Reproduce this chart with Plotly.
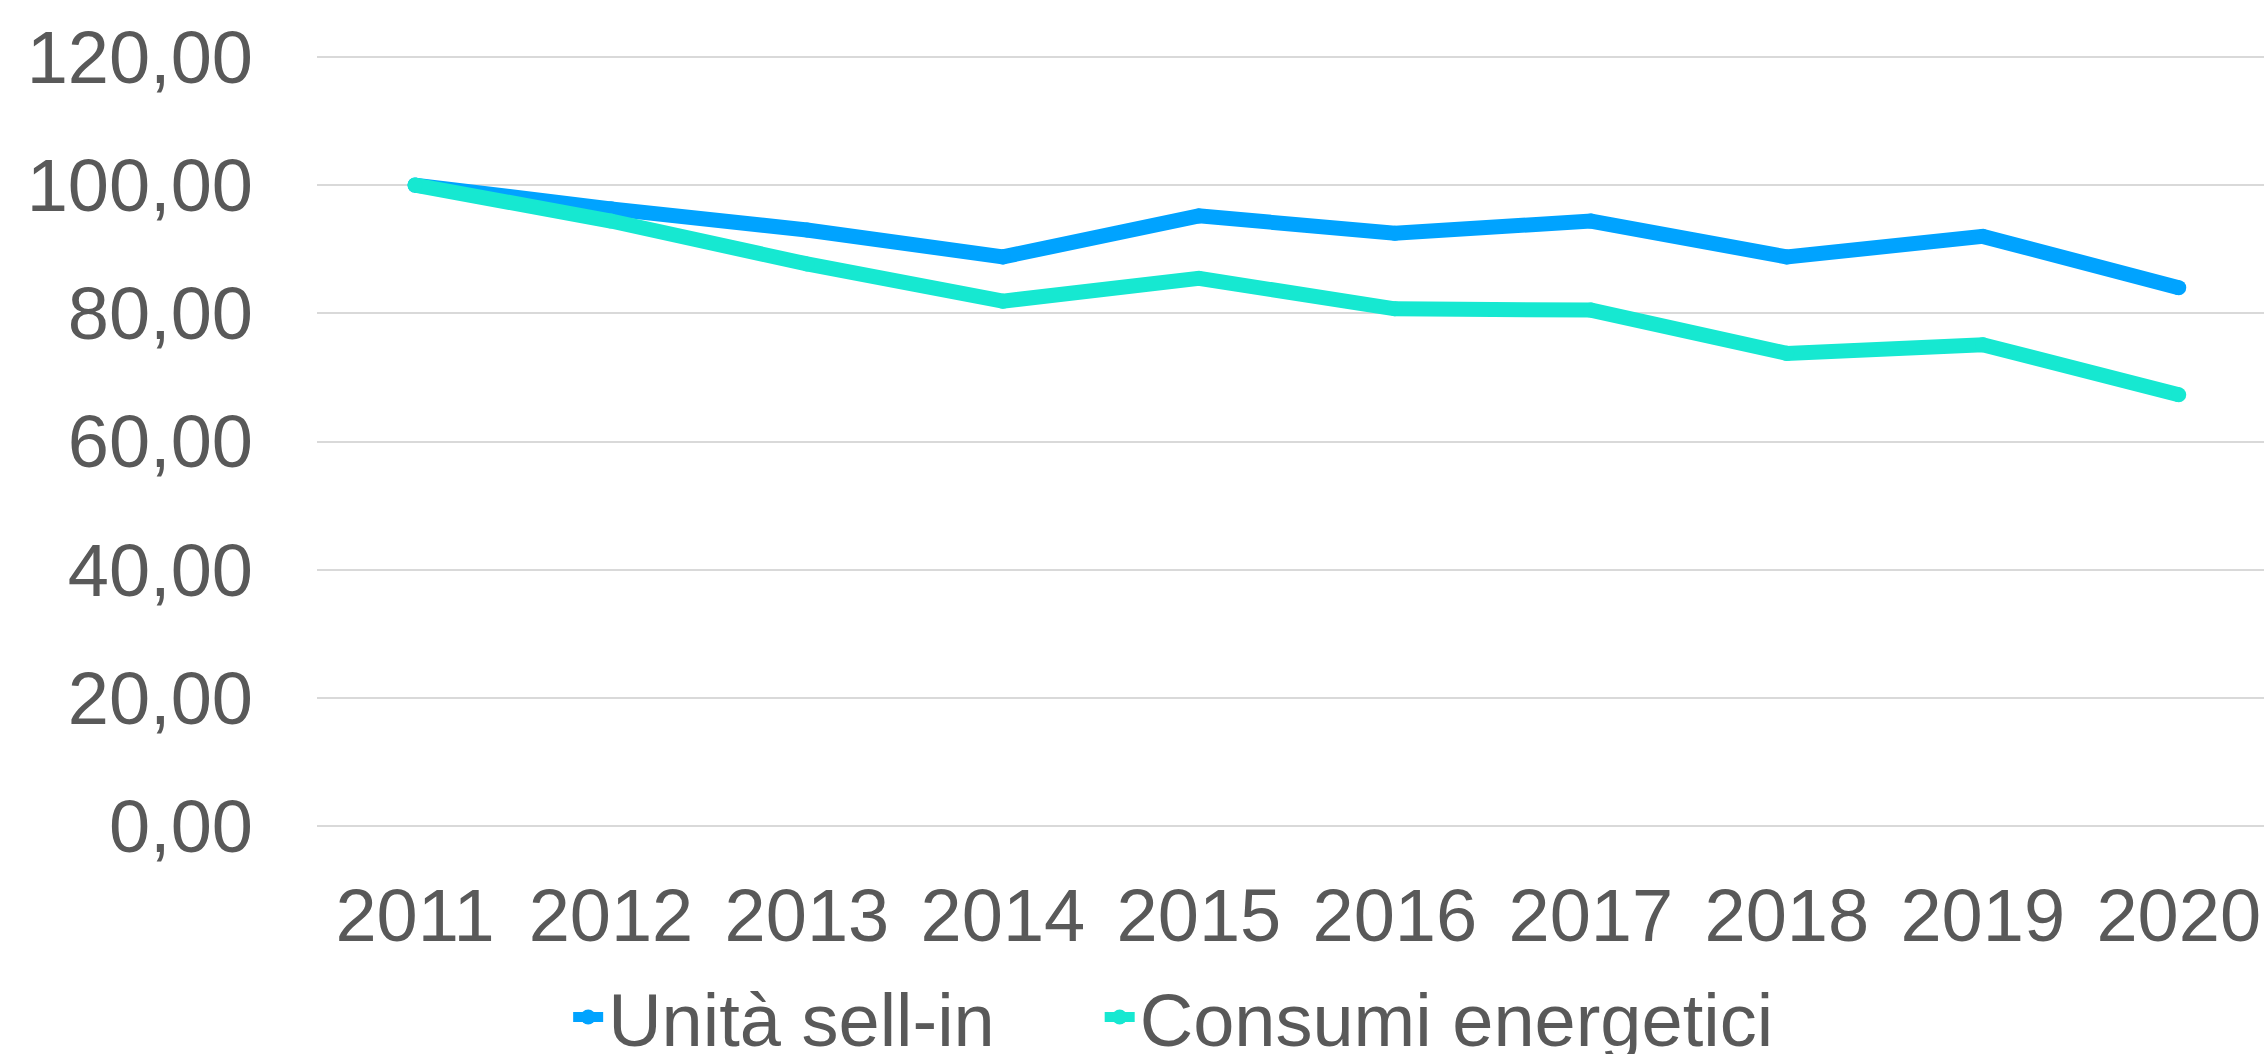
import plotly.graph_objects as go

years = ["2011", "2012", "2013", "2014", "2015", "2016", "2017", "2018", "2019", "2020"]
unita_sell_in = [100.0, 96.3, 93.0, 88.8, 95.2, 92.5, 94.4, 88.8, 92.0, 84.0]
consumi_energetici = [100.0, 94.4, 87.7, 81.9, 85.45, 80.7, 80.5, 73.75, 75.1, 67.3]
y_ticks = [0, 20, 40, 60, 80, 100, 120]

BLUE = "#00A3FF"
TEAL = "#16E8D1"
TEXT = "#595959"
GRID = "#D9D9D9"
FONT = "Liberation Sans, Arial, sans-serif"
LW = 15

fig = go.Figure()
fig.add_trace(go.Scatter(
    x=years, y=unita_sell_in, name="Unità sell-in", mode="lines+markers",
    line=dict(color=BLUE, width=LW, simplify=False),
    marker=dict(color=BLUE, size=LW, line=dict(width=0)),
    legend="legend",
))
fig.add_trace(go.Scatter(
    x=years, y=consumi_energetici, name="Consumi energetici", mode="lines+markers",
    line=dict(color=TEAL, width=LW, simplify=False),
    marker=dict(color=TEAL, size=LW, line=dict(width=0)),
    legend="legend2",
))

leg_common = dict(
    orientation="h", xanchor="left", y=-0.245, yanchor="middle",
    font=dict(family=FONT, size=74, color=TEXT),
    bgcolor="rgba(0,0,0,0)",
)

fig.update_layout(
    width=2264, height=1054,
    margin=dict(l=317, r=0, t=55, b=226, autoexpand=False),
    paper_bgcolor="white", plot_bgcolor="white",
    separators=",.",
    font=dict(family=FONT, size=74, color=TEXT),
    showlegend=True,
    legend=dict(x=0.129, **leg_common),
    legend2=dict(x=0.402, **leg_common),
    xaxis=dict(
        type="category", range=[-0.5, 9.435], showgrid=False, zeroline=False,
        showline=False, ticks="", tickfont=dict(family=FONT, size=74, color=TEXT),
        ticklabelstandoff=38,
    ),
    yaxis=dict(
        range=[-0.3, 120.3], tickvals=y_ticks, tickformat=".2f",
        showgrid=True, gridcolor=GRID, gridwidth=2, zeroline=False, showline=False,
        ticks="", tickfont=dict(family=FONT, size=74, color=TEXT),
        ticklabelstandoff=63,
    ),
)

fig.write_html(
    "out.html",
    config={"displayModeBar": False},
    post_script="document.body.style.margin='0';document.body.style.overflow='hidden';",
)
